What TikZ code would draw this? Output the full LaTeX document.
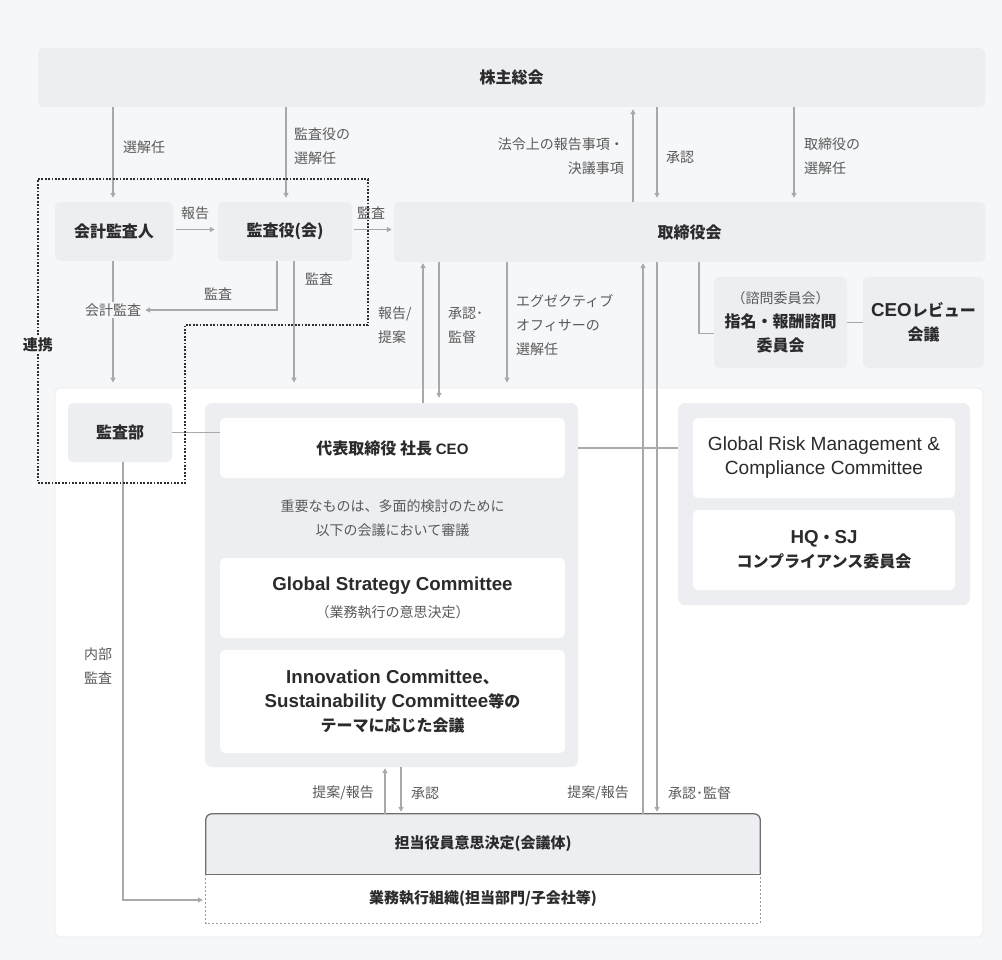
\documentclass[tikz,border=0pt]{standalone}
\usepackage{fontspec}
\setmainfont{Noto Sans CJK JP}
\newfontfamily\lat{Liberation Sans}[Scale=1.17]
\usetikzlibrary{arrows.meta,calc}
\definecolor{bgc}{HTML}{F6F7F9}
\definecolor{boxc}{HTML}{ECEEF2}
\definecolor{arrc}{HTML}{A9A9A9}
\definecolor{lblc}{HTML}{5A5A5A}
\definecolor{ttlc}{HTML}{2B2B2B}
\definecolor{frmc}{HTML}{2E2E2E}
\definecolor{wbord}{HTML}{E9EAEC}
\definecolor{tanb}{HTML}{6E6E6E}
\definecolor{gyob}{HTML}{9A9A9A}
\tikzset{
  box/.style={fill=boxc, rounded corners=5pt, inner sep=0pt, align=center, text=ttlc,
    font=\bfseries\fontsize{16}{24}\selectfont},
  wbox/.style={box, fill=white},
  panel/.style={fill=boxc, rounded corners=7pt, inner sep=0pt},
  wreg/.style={fill=white, draw=wbord, line width=0.8pt, rounded corners=5pt, inner sep=0pt},
  lbl/.style={text=lblc, font=\fontsize{14}{24}\selectfont, inner sep=1pt, align=left},
  exec/.style={inner sep=0pt, text=ttlc, font=\bfseries\fontsize{15}{24}\selectfont},
  conn/.style={draw=arrc, line width=1.5pt},
  arr/.style={conn, -{Triangle[length=5pt,width=5pt]}},
  frame/.style={draw=frmc, line width=2pt, dash pattern=on 1.8pt off 1.6pt}
}
\begin{document}
\begin{tikzpicture}[x=1pt,y=-1pt]
\useasboundingbox (0,0) rectangle (1002,960);
\fill[bgc] (0,0) rectangle (1002,960);
\foreach \x in {113,123,277,286,294,385,401,423,439,507,633,643,657,699,794}
  \coordinate (c\x) at (\x,0);

% top boxes
\node[box, minimum width=947pt, minimum height=59pt] (sh) at (511.5,77.5) {株主総会};
\node[box, minimum width=118pt, minimum height=59pt] (kk) at (114,231.5) {会計監査人};
\node[box, minimum width=134pt, minimum height=59pt] (ka) at (285,231.5) {監査役(会)};
\node[box, minimum width=591pt, minimum height=60pt] (tr) at (689.5,232) {取締役会};
\node[box, minimum width=133pt, minimum height=91pt] (sm) at (780.5,322.5)
  {{\mdseries\color{lblc}\fontsize{14}{24}\selectfont （諮問委員会）}\\指名・報酬諮問\\委員会};
\node[box, minimum width=121pt, minimum height=91pt] (cr) at (923.5,322.5) {{\lat CEO}レビュー\\会議};

% white region
\node[wreg, minimum width=928pt, minimum height=549pt] (wr) at (519,662.5) {};
\node[panel, minimum width=373pt, minimum height=364pt] (ceop) at (391.5,585) {};
\node[panel, minimum width=292pt, minimum height=202pt] (grmp) at (824,504) {};
\node[box, minimum width=104pt, minimum height=59pt] (kb) at (120,432.5) {監査部};
\node[wbox, minimum width=345pt, minimum height=60pt] (ceo) at (392.5,448)
  {代表取締役 社長 {\fontsize{12.9}{24}\selectfont\lat CEO}};
\node[lbl, align=center] (note) at (392.5,518.5) {重要なものは、多面的検討のために\\以下の会議において審議};
\node[wbox, minimum width=345pt, minimum height=80pt] (gsc) at (392.5,598)
  {{\lat Global Strategy Committee}\\[3pt]{\mdseries\color{lblc}\fontsize{14}{24}\selectfont （業務執行の意思決定）}};
\node[wbox, minimum width=345pt, minimum height=103pt] (inn) at (392.5,701.5)
  {{\lat Innovation Committee}、\\{\lat Sustainability Committee}等の\\テーマに応じた会議};
\node[wbox, minimum width=262pt, minimum height=80pt, font=\fontsize{16.3}{24}\selectfont] (grm) at (824,458)
  {{\lat Global Risk Management \&}\\{\lat Compliance Committee}};
\node[wbox, minimum width=262pt, minimum height=80pt] (hq) at (824,550) {{\lat HQ}・{\lat SJ}\\コンプライアンス委員会};

% execution boxes
\node[exec, minimum width=554pt, minimum height=60pt] (tan) at (483,844) {};
\node[exec, minimum width=554pt, minimum height=49pt] (gyo) at (483,898.5) {};
\fill[boxc, rounded corners=6pt] (tan.south west) -- (tan.north west) -- (tan.north east) -- (tan.south east) -- cycle;
\fill[white] (gyo.north west) rectangle (gyo.south east);
\draw[gyob, line width=0.9pt, dash pattern=on 2pt off 2pt] (gyo.north west) -- (gyo.south west) -- (gyo.south east) -- (gyo.north east);
\draw[tanb, line width=1.3pt, rounded corners=6pt] (tan.south west) -- (tan.north west) -- (tan.north east) -- (tan.south east);
\draw[tanb, line width=1.3pt] (tan.south west) -- (tan.south east);
\node[exec] (tant) at (tan.center) {担当役員意思決定(会議体)};
\node[exec] (gyot) at (gyo.center) {業務執行組織(担当部門/子会社等)};

% connectors top
\draw[arr, shorten >=4pt] (c113 |- sh.south) -- (c113 |- kk.north);
\draw[arr, shorten >=4pt] (c286 |- sh.south) -- (c286 |- ka.north);
\draw[arr, shorten >=2pt] (c633 |- tr.north) -- (c633 |- sh.south);
\draw[arr, shorten >=4pt] (c657 |- sh.south) -- (c657 |- tr.north);
\draw[arr, shorten >=4pt] (c794 |- sh.south) -- (c794 |- tr.north);
\draw[arr, shorten <=3pt, shorten >=3pt] ([yshift=2pt]kk.east) -- ([yshift=2pt]kk.east -| ka.west);
\draw[arr, shorten <=2pt, shorten >=2pt] ([yshift=2pt]ka.east) -- ([yshift=2pt]ka.east -| tr.west);

% labels top
\node[lbl, anchor=west] at (122,147) {選解任};
\node[lbl, anchor=west] at (293,146) {監査役の\\選解任};
\node[lbl, anchor=east, align=right] at (625,156) {法令上の報告事項・\\決議事項};
\node[lbl, anchor=west] at (665,157) {承認};
\node[lbl, anchor=west] at (803,156) {取締役の\\選解任};
\node[lbl] at (195,213) {報告};
\node[lbl] at (371,213) {監査};

% middle connectors
\draw[arr, shorten >=5pt] (c113 |- kk.south) -- (c113 |- wr.north);
\node[lbl, fill=bgc, inner sep=2pt] (kal) at (113,310) {会計監査};
\draw[arr, shorten >=2pt] (c277 |- ka.south) |- (kal.east);
\node[lbl] at (218,294) {監査};
\draw[arr, shorten >=5pt] (c294 |- ka.south) -- (c294 |- wr.north);
\node[lbl] at (319,279) {監査};
\draw[arr, shorten >=1pt] (c423 |- ceop.north) -- (c423 |- tr.south);
\draw[arr, shorten >=5pt] (c439 |- tr.south) -- (c439 |- ceop.north);
\node[lbl, anchor=west] at (377,325) {報告/\\提案};
\node[lbl, anchor=west] at (447,325) {承認･\\監督};
\draw[arr, shorten >=5pt] (c507 |- tr.south) -- (c507 |- wr.north);
\node[lbl, anchor=west] at (515,325) {エグゼクティブ\\オフィサーの\\選解任};
\draw[conn] (c699 |- tr.south) |- ([yshift=-11pt]sm.west);
\draw[conn] (sm.east) -- (cr.west);

% lower connectors
\draw[conn] (kb.east) -- (kb.east -| ceo.west);
\draw[conn] (ceop.east |- ceo.east) -- (grmp.west |- ceo.east);
\draw[arr, shorten >=1pt] (c643 |- tan.north) -- (c643 |- tr.south);
\draw[arr, shorten >=2pt] (c657 |- tr.south) -- (c657 |- tan.north);
\draw[arr, shorten >=3pt] (c123 |- kb.south) |- ([yshift=-1.5pt]gyo.west);
\draw[arr, shorten >=1pt] (c385 |- tan.north) -- (c385 |- ceop.south);
\draw[arr, shorten >=2pt] (c401 |- ceop.south) -- (c401 |- tan.north);
\node[lbl, anchor=east] at (375,793) {提案/報告};
\node[lbl, anchor=west] at (410,793) {承認};
\node[lbl, anchor=east] at (630,793) {提案/報告};
\node[lbl, anchor=west] at (667,793) {承認･監督};
\node[lbl, align=center] at (98,666) {内部\\監査};

% dotted frame
\draw[frame] (38,179) -- (368,179) -- (368,325) -- (185,325) -- (185,483) -- (38,483) -- cycle;
\node[box, fill=bgc, inner sep=2pt, rounded corners=0pt, font=\bfseries\fontsize{15}{24}\selectfont] (rk) at (38,345) {連携};
\end{tikzpicture}
\end{document}
